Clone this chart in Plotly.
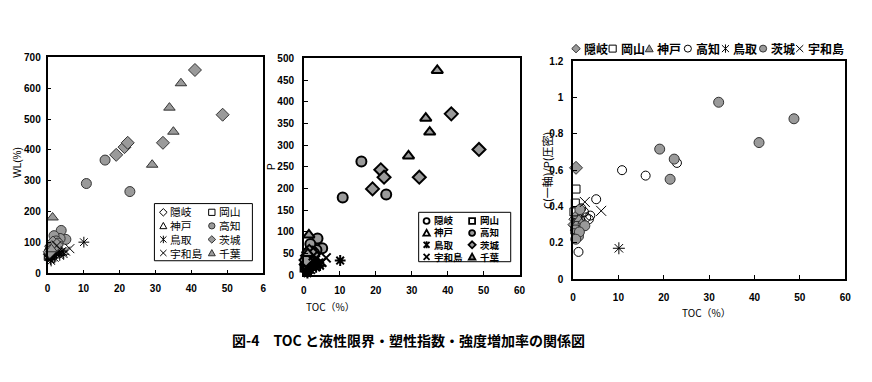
import plotly.graph_objects as go

# ---------------- data ----------------
regions = ["隠岐", "岡山", "神戸", "高知", "鳥取", "茨城", "宇和島", "千葉"]

oki_toc = [0.3, 0.5, 0.65, 0.8, 1.0]
oki_wl = [62, 75, 88, 70, 95]
oki_ip = [25, 35, 45, 30, 52]
oki_cr = [0.30, 0.33, 0.613, 0.27, 0.35]

okayama_toc = [0.2, 0.4, 0.5, 0.65, 0.9]
okayama_wl = [55, 60, 68, 72, 58]
okayama_ip = [18, 22, 30, 35, 25]
okayama_cr = [0.37, 0.27, 0.419, 0.496, 0.31]

kobe_toc = [0.6, 1.0, 1.3, 1.8, 2.2]
kobe_wl = [70, 85, 100, 110, 78]
kobe_ip = [35, 48, 62, 70, 40]
kobe_cr = [0.29, 0.31, 0.33, 0.28, 0.32]

kochi_toc = [10.8, 16.0, 22.9, 3.8, 5.1, 3.5, 1.8, 2.4, 1.2, 2.9]
kochi_wl = [291, 367, 265, 139, 110, 113, 122, 105, 92, 98]
kochi_ip = [179, 262, 186, 85, 62, 58, 72, 55, 45, 50]
kochi_cr = [0.60, 0.57, 0.64, 0.35, 0.44, 0.33, 0.39, 0.37, 0.15, 0.34]

tottori_toc = [10.1, 0.8, 1.2, 1.6, 2.0, 2.5, 3.0, 3.4, 4.0, 4.5, 1.0, 2.2]
tottori_wl = [101, 45, 55, 60, 50, 65, 70, 58, 72, 62, 40, 80]
tottori_ip = [34, 8, 15, 20, 12, 25, 30, 18, 28, 22, 5, 35]
tottori_cr = [0.17, None, None, None, None, None, None, None, None, None, None, None]

ibaraki_toc = [19.1, 21.4, 22.3, 32.1, 41.0, 48.7, 1.5, 2.6, 1.2, 1.4, 0.6]
ibaraki_wl = [384, 409, 423, 423, 659, 514, 100, 92, 85, 80, 70]
ibaraki_ip = [199, 243, 226, 226, 372, 290, 55, 48, 40, 42, 35]
ibaraki_cr = [0.716, 0.55, 0.661, 0.974, 0.752, 0.883, 0.383, 0.294, 0.236, 0.26, 0.22]

uwajima_toc = [6.2, 2.6, 5.0, 3.2, 4.2]
uwajima_wl = [80, 90, 72, 65, 70]
uwajima_ip = [40, 45, 30, 35, 28]
uwajima_cr = [0.376, 0.425, None, None, None]

chiba_toc = [1.4, 29.1, 33.9, 35.0, 37.1, 1.1]
chiba_wl = [181, 352, 537, 459, 616, 78]
chiba_ip = [93, 275, 362, 330, 472, 50]
chiba_cr = [None, None, None, None, None, None]

toc_ticks = [0, 10, 20, 30, 40, 50, 60]
toc_ticktext_p1 = ["0", "10", "20", "30", "40", "50", "6"]
wl_ticks = [0, 100, 200, 300, 400, 500, 600, 700]
ip_ticks = [0, 50, 100, 150, 200, 250, 300, 350, 400, 450, 500]
cr_ticks = [0, 0.2, 0.4, 0.6, 0.8, 1.0, 1.2]
cr_ticktext = ["0", "0.2", "0.4", "0.6", "0.8", "1", "1.2"]

series = {
    "隠岐": (oki_toc, oki_wl, oki_ip, oki_cr),
    "岡山": (okayama_toc, okayama_wl, okayama_ip, okayama_cr),
    "神戸": (kobe_toc, kobe_wl, kobe_ip, kobe_cr),
    "高知": (kochi_toc, kochi_wl, kochi_ip, kochi_cr),
    "鳥取": (tottori_toc, tottori_wl, tottori_ip, tottori_cr),
    "茨城": (ibaraki_toc, ibaraki_wl, ibaraki_ip, ibaraki_cr),
    "宇和島": (uwajima_toc, uwajima_wl, uwajima_ip, uwajima_cr),
    "千葉": (chiba_toc, chiba_wl, chiba_ip, chiba_cr),
}

# ---------------- styles ----------------
W, H = 872, 382
GRAY = "#9a9a9a"
EDGE = "#333333"
FONT = "Liberation Sans, Arial, Noto Sans CJK JP, sans-serif"
JFONT = "Noto Sans CJK JP, sans-serif"


def fx(p):
    return p / W


def fy(p):
    return 1 - p / H


def mk(symbol, fill, lc, lw, size):
    return dict(symbol=symbol, color=fill, size=size, line=dict(color=lc, width=lw))


def panel_styles(lw, edge):
    return {
        "隠岐": mk("diamond-open", "black", "black", lw, 8),
        "岡山": mk("square-open", "black", "black", lw, 8),
        "神戸": mk("triangle-up-open", "black", "black", lw, 8),
        "高知": mk("circle", GRAY, edge, lw, 10),
        "鳥取": mk("asterisk-open", "black", "black", lw, 9),
        "茨城": mk("diamond", GRAY, edge, lw, 10),
        "宇和島": mk("x-thin-open", "black", "black", lw, 9),
        "千葉": mk("triangle-up", GRAY, edge, lw, 10),
    }


style1 = panel_styles(1, EDGE)
style2 = panel_styles(2, "black")
style3 = {
    "隠岐": mk("diamond", GRAY, EDGE, 1, 10),
    "岡山": mk("square-open", "black", "black", 1, 8),
    "神戸": mk("triangle-up", GRAY, EDGE, 1, 9),
    "高知": mk("circle-open", "black", "black", 1, 9),
    "鳥取": mk("asterisk-open", "black", "black", 1, 10),
    "茨城": mk("circle", GRAY, EDGE, 1, 10),
    "宇和島": mk("x-thin-open", "black", "black", 1, 10),
}

fig = go.Figure()

for r in regions:
    toc, wl, ip, cr = series[r]
    fig.add_trace(go.Scatter(x=toc, y=wl, mode="markers", marker=style1[r], name=r,
                             xaxis="x", yaxis="y", showlegend=False, cliponaxis=False))
for r in regions:
    toc, wl, ip, cr = series[r]
    fig.add_trace(go.Scatter(x=toc, y=ip, mode="markers", marker=style2[r], name=r,
                             xaxis="x2", yaxis="y2", showlegend=False, cliponaxis=False))
for r in regions:
    if r not in style3:
        continue
    toc, wl, ip, cr = series[r]
    fig.add_trace(go.Scatter(x=toc, y=cr, mode="markers", marker=style3[r], name=r,
                             xaxis="x3", yaxis="y3", showlegend=False, cliponaxis=False))

axis_common = dict(showline=True, mirror=True, linecolor="black", linewidth=1.6,
                   ticks="inside", ticklen=4, tickwidth=1, tickcolor="black",
                   showgrid=False, zeroline=False,
                   tickfont=dict(family=FONT, size=10, color="black", weight="bold"))

fig.update_layout(
    width=W, height=H,
    margin=dict(l=0, r=0, t=0, b=0),
    paper_bgcolor="white", plot_bgcolor="white",
    showlegend=False,
    xaxis=dict(domain=[fx(45), fx(263)], range=[0, 60], anchor="y",
               tickvals=toc_ticks, ticktext=toc_ticktext_p1, ticklabelstandoff=5,
               **axis_common),
    yaxis=dict(domain=[fy(276), fy(53)], range=[0, 700], anchor="x",
               tickvals=wl_ticks, ticklabelstandoff=3, **axis_common),
    xaxis2=dict(domain=[fx(304), fx(522)], range=[0, 60], anchor="y2",
                tickvals=toc_ticks, ticklabelstandoff=5, **axis_common),
    yaxis2=dict(domain=[fy(278), fy(54)], range=[0, 500], anchor="x2",
                tickvals=ip_ticks, ticklabelstandoff=6, **axis_common),
    xaxis3=dict(domain=[fx(576), fx(851)], range=[0, 60], anchor="y3",
                tickvals=toc_ticks, ticklabelstandoff=8, **axis_common),
    yaxis3=dict(domain=[fy(282), fy(57)], range=[0, 1.2], anchor="x3",
                tickvals=cr_ticks, ticktext=cr_ticktext, ticklabelstandoff=6,
                **axis_common),
)

ann = []
shapes = []


def text(x, y, t, size=10, family=JFONT, angle=0, xanchor="center", color="black", align="center"):
    ann.append(dict(x=fx(x), y=fy(y), xref="paper", yref="paper", text=t, showarrow=False,
                    font=dict(family=family, size=size, color=color), textangle=angle,
                    xanchor=xanchor, yanchor="middle", align=align))


# axis titles
text(15, 161, "WL(%)", size=10, family=FONT, angle=-90)
text(272, 166, "P", size=10, family=FONT, angle=-90)
text(549, 170, "C(一軸)/P(圧密)", size=11, family=JFONT, angle=-90)
text(331, 310, "TOC（%）", size=10, family=JFONT)
text(711, 316, "TOC（%）", size=10, family=JFONT)

# caption
text(410, 345, "<b>図-4　TOC と液性限界・塑性指数・強度増加率の関係図</b>", size=14, family=JFONT)


# ---------------- legend keys drawn as layout shapes ----------------
def P(x, y):
    return "%.6f,%.6f" % (fx(x), fy(y))


def key(kind, cx, cy, r, fill, lc, lw):
    base = dict(xref="paper", yref="paper", line=dict(color=lc, width=lw), layer="above")
    if kind == "circle":
        shapes.append(dict(type="circle", x0=fx(cx - r), x1=fx(cx + r), y0=fy(cy + r),
                           y1=fy(cy - r), fillcolor=fill, **base))
    elif kind == "square":
        shapes.append(dict(type="rect", x0=fx(cx - r), x1=fx(cx + r), y0=fy(cy + r),
                           y1=fy(cy - r), fillcolor=fill, **base))
    elif kind == "diamond":
        p = "M%s L%s L%s L%s Z" % (P(cx, cy - r * 1.2), P(cx + r * 1.2, cy),
                                  P(cx, cy + r * 1.2), P(cx - r * 1.2, cy))
        shapes.append(dict(type="path", path=p, fillcolor=fill, **base))
    elif kind == "triangle":
        p = "M%s L%s L%s Z" % (P(cx, cy - r * 1.1), P(cx + r * 1.1, cy + r * 0.9),
                              P(cx - r * 1.1, cy + r * 0.9))
        shapes.append(dict(type="path", path=p, fillcolor=fill, **base))
    elif kind == "x":
        p = "M%s L%s M%s L%s" % (P(cx - r, cy - r), P(cx + r, cy + r),
                                P(cx - r, cy + r), P(cx + r, cy - r))
        shapes.append(dict(type="path", path=p, **base))
    elif kind == "asterisk":
        p = "M%s L%s M%s L%s M%s L%s" % (P(cx - r, cy - r), P(cx + r, cy + r),
                                        P(cx - r, cy + r), P(cx + r, cy - r),
                                        P(cx, cy - r * 1.2), P(cx, cy + r * 1.2))
        shapes.append(dict(type="path", path=p, **base))


keys1 = {
    "隠岐": ("diamond", "white", "black"), "岡山": ("square", "white", "black"),
    "神戸": ("triangle", "white", "black"), "高知": ("circle", GRAY, EDGE),
    "鳥取": ("asterisk", None, "black"), "茨城": ("diamond", GRAY, EDGE),
    "宇和島": ("x", None, "black"), "千葉": ("triangle", GRAY, EDGE),
}
keys2 = {
    "隠岐": ("circle", "white", "black"), "岡山": ("square", "white", "black"),
    "神戸": ("triangle", "white", "black"), "高知": ("circle", GRAY, "black"),
    "鳥取": ("asterisk", None, "black"), "茨城": ("diamond", GRAY, "black"),
    "宇和島": ("x", None, "black"), "千葉": ("triangle", GRAY, "black"),
}
keys3 = {
    "隠岐": ("diamond", GRAY, EDGE), "岡山": ("square", "white", "black"),
    "神戸": ("triangle", GRAY, EDGE), "高知": ("circle", "white", "black"),
    "鳥取": ("asterisk", None, "black"), "茨城": ("circle", GRAY, EDGE),
    "宇和島": ("x", None, "black"),
}


def legend_column(keys, names, sx, tx, rows, r, lw, size, bold=False):
    for name, y in zip(names, rows):
        kind, fill, lc = keys[name]
        key(kind, sx, y, r, fill, lc, lw)
    lines = ["<b>%s</b>" % n if bold else n for n in names]
    text(tx, sum(rows) / len(rows), "<br>".join(lines), size=size, family=JFONT,
         xanchor="left", align="left")


col1 = ["隠岐", "神戸", "鳥取", "宇和島"]
col2 = ["岡山", "高知", "茨城", "千葉"]

# panel 1 legend
rows1 = [213, 227, 241, 255]
shapes.append(dict(type="rect", xref="paper", yref="paper", x0=fx(153), x1=fx(252),
                   y0=fy(263), y1=fy(204), line=dict(color="black", width=1),
                   fillcolor="white", layer="above"))
legend_column(keys1, col1, 162, 167, rows1, 3.2, 1, 10.77)
legend_column(keys1, col2, 211, 216, rows1, 3.2, 1, 10.77)

# panel 2 legend
rows2 = [222, 234.3, 246.6, 259]
shapes.append(dict(type="rect", xref="paper", yref="paper", x0=fx(420), x1=fx(513),
                   y0=fy(264), y1=fy(213), line=dict(color="black", width=1),
                   fillcolor="white", layer="above"))
legend_column(keys2, col1, 428, 433, rows2, 3.0, 1.8, 9.5, bold=True)
legend_column(keys2, col2, 474, 480, rows2, 3.0, 1.8, 9.5, bold=True)

# panel 3 legend (horizontal, above plot)
order3 = ["隠岐", "岡山", "神戸", "高知", "鳥取", "茨城", "宇和島"]
sym3 = [579, 616, 653, 692, 730, 768, 805]
for r, sx in zip(order3, sym3):
    kind, fill, lc = keys3[r]
    key(kind, sx, 44, 3.6, fill, lc, 1)
    text(sx + 6, 44, "<b>%s</b>" % r, size=12, family=JFONT, xanchor="left")

fig.update_layout(annotations=ann, shapes=shapes)
fig.write_html("out.html", config={"displayModeBar": False},
               post_script="document.body.style.margin='0px';document.body.style.padding='0px';")
